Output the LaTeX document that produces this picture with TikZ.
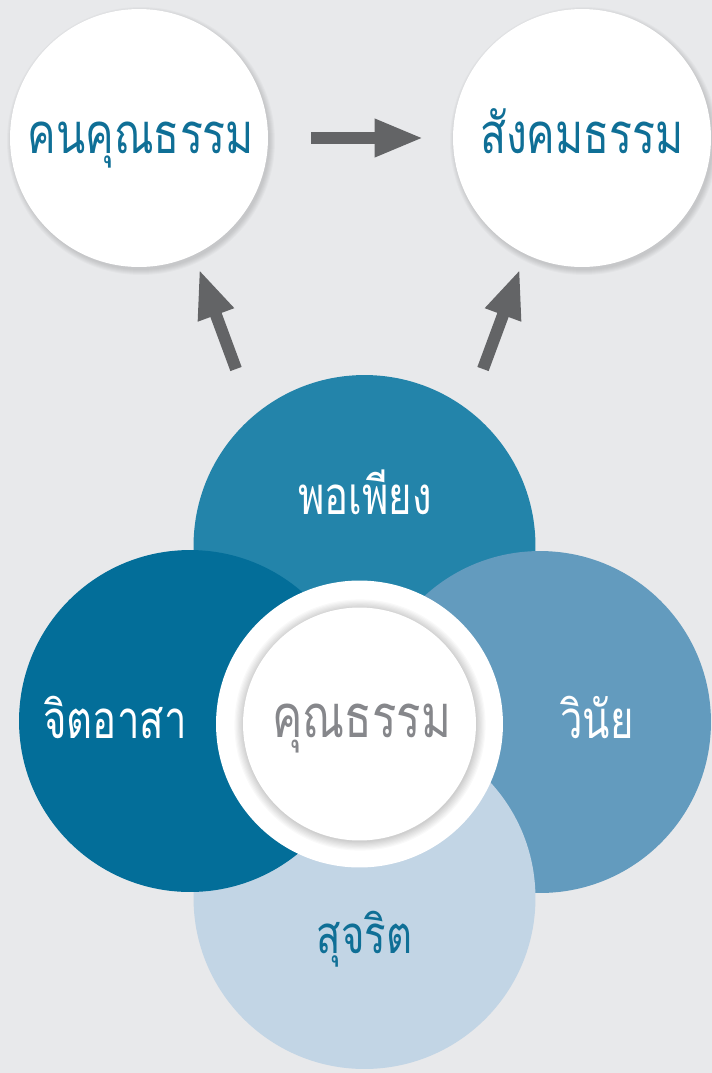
\documentclass[tikz,border=0pt]{standalone}
\usepackage{fontspec}
\newfontfamily\thaifont[Script=Thai,FakeStretch=0.76]{Loma}
\usetikzlibrary{arrows.meta}
\definecolor{bggray}{HTML}{E8E9EB}
\definecolor{arrowgray}{HTML}{636466}
\definecolor{headblue}{HTML}{0F6F96}
\definecolor{toppetal}{HTML}{2384AA}
\definecolor{leftpetal}{HTML}{036E99}
\definecolor{rightpetal}{HTML}{639BBE}
\definecolor{botpetal}{HTML}{C2D5E5}
\definecolor{coregray}{HTML}{86878B}
\tikzset{
  topcirc/.style={circle, fill=white, minimum size=5.16cm, inner sep=0pt},
  petal/.style={circle, minimum size=6.84cm, inner sep=0pt},
  lbl/.style={anchor=base, inner sep=0pt},
  headthai/.style={font=\thaifont\fontsize{32}{38}\selectfont},
  bigthai/.style={font=\thaifont\fontsize{34}{40}\selectfont},
  petalthai/.style={font=\thaifont\fontsize{30}{36}\selectfont},
  arr/.style={draw=arrowgray, line width=0.24cm, -{Triangle[length=0.98cm,width=0.7cm]}},
}

\begin{document}
\begin{tikzpicture}[x=0.02cm,y=-0.02cm]
  \fill[bggray] (0,0) rectangle (712,1073);
  \useasboundingbox (0,0) rectangle (712,1073);

  % soft shadows of the two upper circles
  \foreach \i in {1,...,6}{
    \fill[black,opacity=0.025] (141,141) circle[radius=128+\i];
    \fill[black,opacity=0.025] (584,141) circle[radius=128+\i];
  }
  \node[topcirc] (kon) at (139,138) {};
  \node[topcirc] (sangkhom) at (582,138) {};
  \node[lbl, headthai, text=headblue] (t-kon) at (141,153) {คนคุณธรรม};
  \node[lbl, headthai, text=headblue] (t-sangkhom) at (582,153) {สังคมธรรม};

  % arrows
  \draw[arr, shorten <=0.86cm, shorten >=0.58cm] (kon) -- (sangkhom);
  \coordinate (l1) at (236,369);
  \coordinate (l2) at (199,269);
  \coordinate (r1) at (483,369);
  \coordinate (r2) at (520,269);
  \draw[arr] (l1) -- (l2);
  \draw[arr] (r1) -- (r2);

  % petals
  \node[petal, fill=toppetal] (phophiang) at (364.5,546) {};
  \node[petal, fill=rightpetal] (winai) at (540,722) {};
  \node[petal, fill=botpetal] (sutcharit) at (364.5,898) {};
  \node[petal, fill=leftpetal] (chit) at (190,721) {};

  % centre
  \node[circle, fill=white, minimum size=5.74cm, inner sep=0pt] (core) at (359.5,724) {};
  \foreach \i in {1,...,8}
    \fill[black,opacity=0.025] (360,725) circle[radius=116+1.2*\i];
  \node[circle, fill=white, minimum size=4.66cm, inner sep=0pt] (corein) at (359.5,724) {};

  % labels
  \node[lbl, petalthai, text=white] (t-phophiang) at (365,514) {พอเพียง};
  \node[lbl, petalthai, text=white] (t-chit) at (115,738.5) {จิตอาสา};
  \node[lbl, petalthai, text=white] (t-winai) at (597,738.5) {วินัย};
  \node[lbl, petalthai, text=headblue] (t-sutcharit) at (364.5,953) {สุจริต};
  \node[lbl, bigthai, text=coregray] (t-core) at (361.5,737) {คุณธรรม};
\end{tikzpicture}
\end{document}
